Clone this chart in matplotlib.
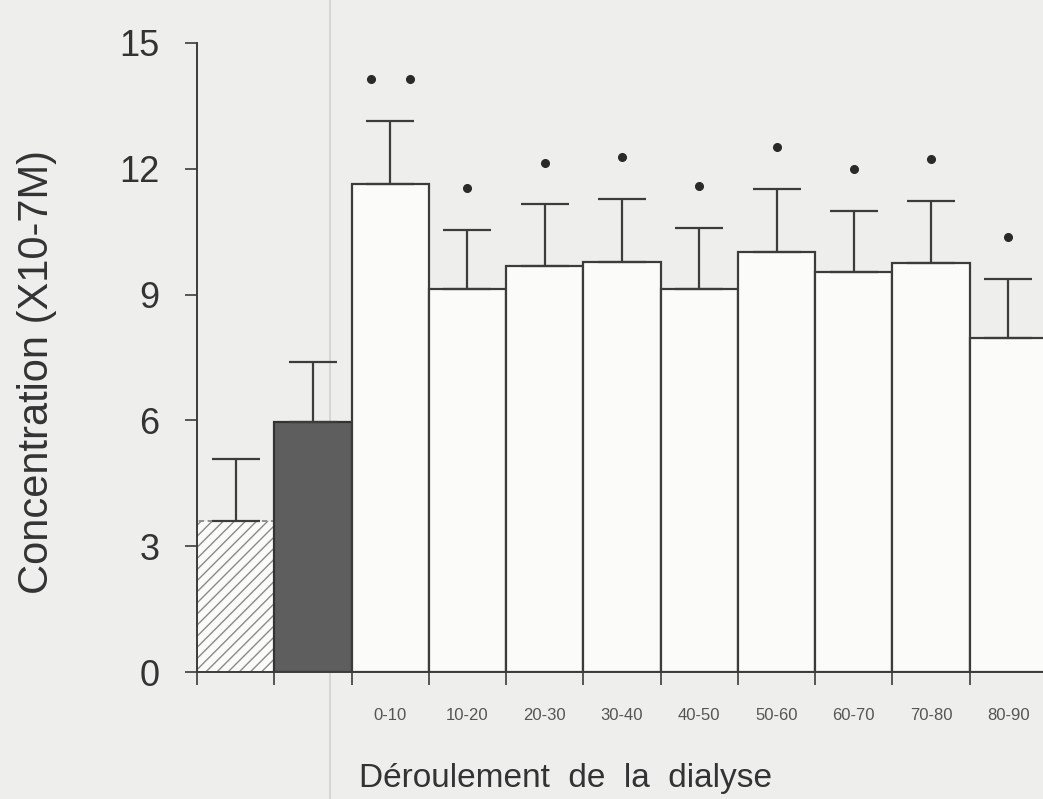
import numpy as np
import matplotlib
matplotlib.use("Agg")
from matplotlib import pyplot as plt

# concentration (x10-7 M) : two reference bars, then one bar per 10 min of dialysis
periods = ['', '', '0-10', '10-20', '20-30', '30-40', '40-50',
           '50-60', '60-70', '70-80', '80-90']
means = [3.61, 5.96, 11.63, 9.13, 9.69, 9.78, 9.13, 10.02, 9.54, 9.76, 7.96]
sems = [1.46, 1.44, 1.50, 1.42, 1.46, 1.49, 1.47, 1.49, 1.45, 1.47, 1.42]
stars = [0, 0, 2, 1, 1, 1, 1, 1, 1, 1, 1]

yticks = [0, 3, 6, 9, 12, 15]

ink = '#3c3c3c'
paper = '#eeeeec'

plt.rcParams['font.family'] = ['Liberation Sans', 'DejaVu Sans']
plt.rcParams['hatch.linewidth'] = 1.0

fig = plt.figure(figsize=(10.43, 7.99), dpi=100, facecolor=paper)
ax = fig.add_axes([197/1043, (799-672)/799, 850/1043, 629/799])
ax.set_facecolor(paper)

x = np.arange(len(means)) + 0.5

# faint fold line of the page
ax.axvline(1.72, ymin=-0.21, ymax=1.08, color='#d2d2d0', lw=1.2,
           zorder=0, clip_on=False)

bars = ax.bar(x, means, width=1.0, color='#fbfbfa', edgecolor=ink,
              linewidth=1.6, zorder=2)
# control bar: light diagonal hatching, dashed outline
bars[0].set_hatch('///')
bars[0].set_edgecolor('#8a8a88')
bars[0].set_linestyle((0, (3, 2)))
bars[0].set_linewidth(1.3)
# second reference bar: dark grey
bars[1].set_facecolor('#5e5e5e')
bars[1].set_edgecolor('#333333')

# upper error bars only
ax.errorbar(x, means, yerr=[np.zeros(len(sems)), sems], fmt='none',
            ecolor=ink, elinewidth=1.6, capsize=17, capthick=1.6, zorder=3)

# significance marks above each error bar
for xi, m, s, n in zip(x, means, sems, stars):
    if n == 0:
        continue
    offs = [0.0] if n == 1 else [-0.25, 0.25]
    for o in offs:
        ax.plot(xi + o, m + s + 1.0, 'o', ms=5.5, color='#2a2a2a', zorder=4)

ax.set_xlim(0, 11)
ax.set_ylim(0, 15)

for side in ['top', 'right']:
    ax.spines[side].set_visible(False)
ax.spines['left'].set_color(ink)
ax.spines['left'].set_linewidth(1.4)
ax.spines['bottom'].set_color(ink)
ax.spines['bottom'].set_linewidth(1.4)
ax.spines['bottom'].set_zorder(5)

ax.set_yticks(yticks)
ax.set_yticklabels([str(v) for v in yticks])
ax.tick_params(axis='y', direction='out', length=9, width=1.2,
               colors=ink, labelsize=26, pad=18, labelcolor='#333333')

# ticks at bar boundaries, labels under bar centres
ax.set_xticks(np.arange(0, 11))
ax.set_xticklabels([])
ax.tick_params(axis='x', which='major', direction='out', length=9,
               width=1.2, colors=ink)
ax.set_xticks(x, minor=True)
ax.set_xticklabels(periods, minor=True)
ax.tick_params(axis='x', which='minor', length=0, pad=26,
               labelsize=12, labelcolor='#555555')

ax.set_ylabel('Concentration (X10-7M)', fontsize=30, color='#333333')
ax.yaxis.set_label_coords(-0.165, 0.477)
ax.set_xlabel('Déroulement  de  la  dialyse', fontsize=24, color='#333333')
ax.xaxis.set_label_coords(0.433, -0.145)

fig.savefig('out.png', dpi=100, facecolor=paper)
